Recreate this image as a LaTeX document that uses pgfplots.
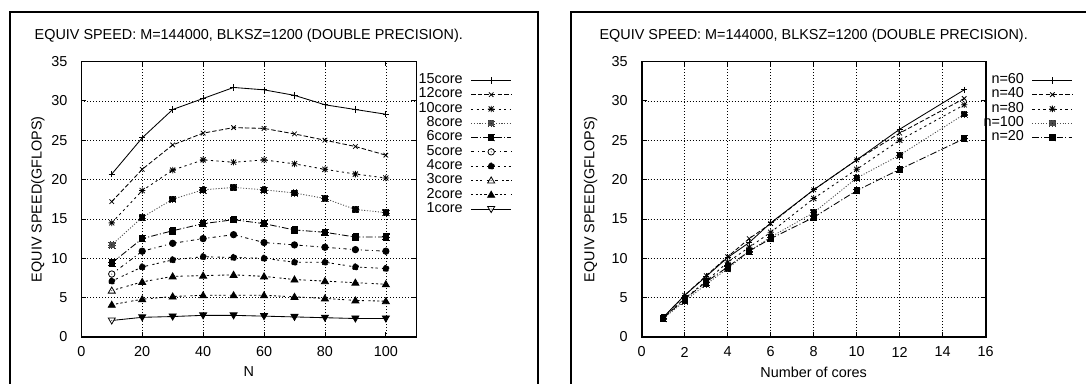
\documentclass[border=0pt]{standalone}
\usepackage{pgfplots}
\usepackage{pgfplotstable}
\pgfplotsset{compat=1.18}
\usepackage{fontspec}
\setmainfont{Liberation Sans}
\usetikzlibrary{plotmarks}

\pgfdeclareplotmark{gpstar}{%
  \pgfpathmoveto{\pgfqpoint{-\pgfplotmarksize}{0pt}}\pgfpathlineto{\pgfqpoint{\pgfplotmarksize}{0pt}}%
  \pgfpathmoveto{\pgfqpoint{0pt}{-\pgfplotmarksize}}\pgfpathlineto{\pgfqpoint{0pt}{\pgfplotmarksize}}%
  \pgfpathmoveto{\pgfqpoint{-0.8\pgfplotmarksize}{-0.8\pgfplotmarksize}}\pgfpathlineto{\pgfqpoint{0.8\pgfplotmarksize}{0.8\pgfplotmarksize}}%
  \pgfpathmoveto{\pgfqpoint{-0.8\pgfplotmarksize}{0.8\pgfplotmarksize}}\pgfpathlineto{\pgfqpoint{0.8\pgfplotmarksize}{-0.8\pgfplotmarksize}}%
  \pgfusepathqstroke}
\pgfdeclareplotmark{boxdot}{%
  \pgfpathrectangle{\pgfqpoint{-\pgfplotmarksize}{-\pgfplotmarksize}}{\pgfqpoint{2\pgfplotmarksize}{2\pgfplotmarksize}}%
  \pgfusepathqfillstroke
  \pgfpathcircle{\pgfpointorigin}{0.5pt}\pgfsetfillcolor{black}\pgfusepathqfill}
\pgfdeclareplotmark{circdot}{%
  \pgfpathcircle{\pgfpointorigin}{\pgfplotmarksize}%
  \pgfusepathqfillstroke
  \pgfpathcircle{\pgfpointorigin}{0.5pt}\pgfsetfillcolor{black}\pgfusepathqfill}
\pgfdeclareplotmark{tridot}{%
  \pgfpathmoveto{\pgfqpoint{0pt}{1.1\pgfplotmarksize}}%
  \pgfpathlineto{\pgfqpoint{-1.1\pgfplotmarksize}{-0.8\pgfplotmarksize}}%
  \pgfpathlineto{\pgfqpoint{1.1\pgfplotmarksize}{-0.8\pgfplotmarksize}}\pgfpathclose
  \pgfusepathqfillstroke
  \pgfpathcircle{\pgfpointorigin}{0.5pt}\pgfsetfillcolor{black}\pgfusepathqfill}
\pgfdeclareplotmark{trifill}{%
  \pgfpathmoveto{\pgfqpoint{0pt}{1.1\pgfplotmarksize}}%
  \pgfpathlineto{\pgfqpoint{-1.1\pgfplotmarksize}{-0.8\pgfplotmarksize}}%
  \pgfpathlineto{\pgfqpoint{1.1\pgfplotmarksize}{-0.8\pgfplotmarksize}}\pgfpathclose
  \pgfsetfillcolor{black}\pgfusepathqfillstroke}
\pgfdeclareplotmark{itridot}{%
  \pgfpathmoveto{\pgfqpoint{0pt}{-1.1\pgfplotmarksize}}%
  \pgfpathlineto{\pgfqpoint{-1.1\pgfplotmarksize}{0.8\pgfplotmarksize}}%
  \pgfpathlineto{\pgfqpoint{1.1\pgfplotmarksize}{0.8\pgfplotmarksize}}\pgfpathclose
  \pgfusepathqfillstroke
  \pgfpathcircle{\pgfpointorigin}{0.5pt}\pgfsetfillcolor{black}\pgfusepathqfill}

\pgfplotstableread{
N   c15  c12  c10  c8   c6   c5   c4   c3   c2    c1
10  20.7 17.2 14.5 11.7 9.4  8.0  7.1  5.9  4.1   2.1
20  25.3 21.3 18.6 15.2 12.5 10.9 8.9  7.0  4.8   2.5
30  28.9 24.4 21.2 17.5 13.5 11.9 9.8  7.7  5.15  2.6
40  30.3 25.9 22.5 18.7 14.4 12.5 10.2 7.8  5.3   2.75
50  31.7 26.6 22.2 19.0 14.9 13.0 10.1 7.9  5.3   2.75
60  31.4 26.5 22.5 18.7 14.4 12.0 10.0 7.7  5.3   2.65
70  30.7 25.8 22.0 18.3 13.6 11.7 9.5  7.3  5.1   2.55
80  29.5 25.0 21.3 17.6 13.3 11.4 9.5  7.1  4.9   2.45
90  28.9 24.2 20.7 16.2 12.7 11.1 8.9  6.9  4.65  2.35
100 28.3 23.1 20.2 15.8 12.7 10.9 8.7  6.7  4.55  2.35
}\leftdata

\pgfplotstableread{
cores n60  n40  n80  n100 n20
1     2.5  2.5  2.4  2.35 2.4
2     5.3  5.3  4.9  4.55 4.8
3     7.7  7.8  7.1  6.7  7.0
4     10.1 10.2 9.5  8.7  8.9
5     12.0 12.5 11.4 10.9 10.9
6     14.5 14.4 13.3 12.7 12.5
8     18.7 18.7 17.6 15.8 15.2
10    22.5 22.5 21.3 20.2 18.6
12    26.4 25.9 25.0 23.1 21.3
15    31.4 30.3 29.5 28.3 25.2
}\rightdata

\pgfplotsset{
  gp/.style={
    scale only axis, height=275.5pt,
    ymin=0, ymax=35, ytick={0,5,...,35},
    grid=major,
    major grid style={black, line width=0.6pt, dash pattern=on 0.8pt off 2.2pt},
    axis line style={line width=1.6pt},
    tick style={black, line width=0.8pt}, major tick length=5pt, tick align=inside,
    /pgf/number format/assume math mode=true,
    xticklabel style={anchor=center, yshift=-15pt},
    yticklabel style={anchor=east, xshift=-9pt},
    title style={at={(0.5,1)}, anchor=base, yshift=15.5pt},
    xlabel style={at={(axis description cs:0.5,0)}, anchor=center, yshift=-35pt},
    legend plot pos=right, legend cell align=right,
    legend style={draw=none, fill=none, anchor=north east, row sep=0pt, column sep=8pt,
      nodes={inner sep=0pt, text height=10.4pt, text depth=3.9pt}},
    legend image code/.code={\draw[mark repeat=2,mark phase=2,#1] plot coordinates {(0pt,0pt) (20pt,0pt) (40pt,0pt)};},
    every axis plot/.append style={line width=0.85pt, mark size=3.2pt, mark options={solid, fill=white, line width=0.8pt}},
  },
  s1/.style={black, solid, mark=+},
  s2/.style={black, dash pattern=on 4.4pt off 2.2pt, mark=x},
  s3/.style={black, dash pattern=on 2.2pt off 3.3pt, mark=gpstar},
  s4/.style={black!70, dash pattern=on 1.1pt off 1.65pt, mark=boxdot, mark options={draw=black!80}},
  s5/.style={black, dash pattern=on 6.6pt off 2.2pt on 1.1pt off 2.2pt, mark=square*, mark options={fill=black}},
  s6/.style={black, dash pattern=on 3.3pt off 3.3pt on 1.1pt off 3.3pt, mark=circdot},
  s7/.style={black, dash pattern=on 2.2pt off 2.2pt on 2.2pt off 4.4pt, mark=*, mark options={fill=black}},
  s8/.style={black, dash pattern=on 2.2pt off 2.2pt on 2.2pt off 2.2pt on 2.2pt off 4.4pt, mark=tridot},
  s9/.style={black, dash pattern=on 2.2pt off 2.2pt on 2.2pt off 2.2pt on 2.2pt off 2.2pt on 2.2pt off 4.4pt, mark=trifill},
  s10/.style={black, solid, mark=itridot},
}

\begin{document}
\fontsize{14.4}{17}\selectfont
\begin{tikzpicture}
\useasboundingbox (0pt,0pt) rectangle (1086pt,383pt);
\draw[line width=2pt] (10pt,-5pt) -- (10pt,371pt) -- (538pt,371pt) -- (538pt,-5pt);
\draw[line width=2pt] (571pt,-5pt) -- (571pt,371pt) -- (1095pt,371pt);

\begin{axis}[gp, at={(81.3pt,46pt)}, anchor=south west, width=335pt,
  xmin=0, xmax=110, xtick={0,20,...,100},
  title={EQUIV SPEED: M=144000, BLKSZ=1200 (DOUBLE PRECISION).},
  xlabel={N}, ylabel={EQUIV SPEED(GFLOPS)},
  ylabel style={at={(axis description cs:0,0.5)}, anchor=center, yshift=43.3pt},
  legend style={at={(axis description cs:1,1)}, xshift=98.5pt, yshift=-9.5pt}]
\addplot[s1] table[x=N, y=c15] {\leftdata}; \addlegendentry{15core}
\addplot[s2] table[x=N, y=c12] {\leftdata}; \addlegendentry{12core}
\addplot[s3] table[x=N, y=c10] {\leftdata}; \addlegendentry{10core}
\addplot[s4] table[x=N, y=c8] {\leftdata}; \addlegendentry{8core}
\addplot[s5] table[x=N, y=c6] {\leftdata}; \addlegendentry{6core}
\addplot[s6] table[x=N, y=c5] {\leftdata}; \addlegendentry{5core}
\addplot[s7] table[x=N, y=c4] {\leftdata}; \addlegendentry{4core}
\addplot[s8] table[x=N, y=c3] {\leftdata}; \addlegendentry{3core}
\addplot[s9] table[x=N, y=c2] {\leftdata}; \addlegendentry{2core}
\addplot[s10] table[x=N, y=c1] {\leftdata}; \addlegendentry{1core}
\end{axis}

\begin{axis}[gp, at={(641.7pt,46pt)}, anchor=south west, width=344pt,
  xmin=0, xmax=16, xtick={0,2,...,16},
  title={EQUIV SPEED: M=144000, BLKSZ=1200 (DOUBLE PRECISION).},
  xlabel={Number of cores}, ylabel={EQUIV SPEED(GFLOPS)},
  ylabel style={at={(axis description cs:0,0.5)}, anchor=center, yshift=51pt},
  legend style={at={(axis description cs:1,1)}, xshift=90.3pt, yshift=-9.5pt}]
\addplot[s1] table[x=cores, y=n60] {\rightdata}; \addlegendentry{n=60}
\addplot[s2] table[x=cores, y=n40] {\rightdata}; \addlegendentry{n=40}
\addplot[s3] table[x=cores, y=n80] {\rightdata}; \addlegendentry{n=80}
\addplot[s4] table[x=cores, y=n100] {\rightdata}; \addlegendentry{n=100}
\addplot[s5] table[x=cores, y=n20] {\rightdata}; \addlegendentry{n=20}
\end{axis}
\end{tikzpicture}
\end{document}
